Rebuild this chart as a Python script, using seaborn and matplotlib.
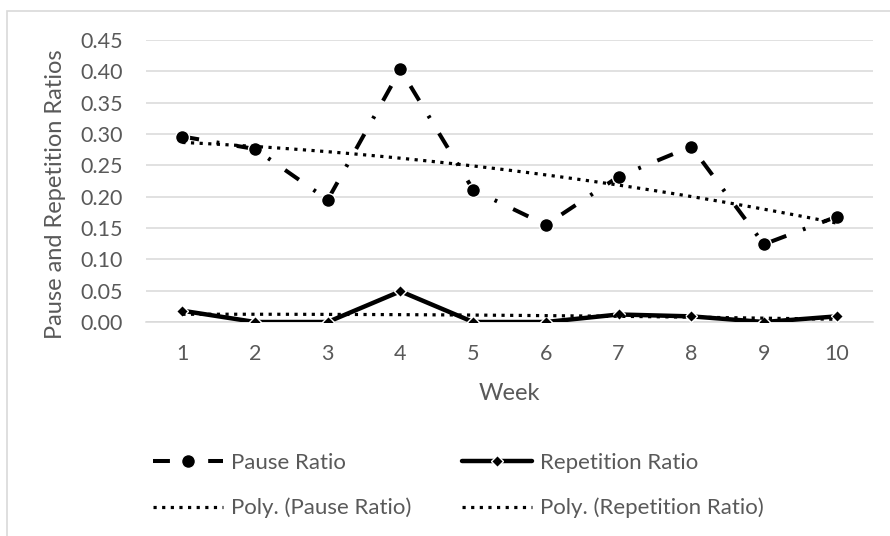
import matplotlib
matplotlib.use("Agg")
import matplotlib.pyplot as plt
from matplotlib.patches import Rectangle
from matplotlib.ticker import FormatStrFormatter
import seaborn as sns

# Weekly speech-fluency ratios
weeks = [1, 2, 3, 4, 5, 6, 7, 8, 9, 10]
pause_ratio = [0.296, 0.276, 0.195, 0.403, 0.211, 0.155, 0.232, 0.280, 0.124, 0.168]
repetition_ratio = [0.018, 0.0, 0.0, 0.049, 0.0, 0.0, 0.012, 0.009, 0.0, 0.009]
y_ticks = [0.00, 0.05, 0.10, 0.15, 0.20, 0.25, 0.30, 0.35, 0.40, 0.45]

sns.set_theme(style="white")
plt.rcParams["font.family"] = ["Lato", "DejaVu Sans"]

TEXT = "#595959"
GRID = "#d9d9d9"
FS = 15.5

fig = plt.figure(figsize=(8.9, 5.36), dpi=100)
ax = fig.add_axes([146 / 890, 1 - 322 / 536, 727 / 890, 282 / 536])

# outer chart border
fig.add_artist(Rectangle((7 / 890, -0.05), 1.2, 1 - 11 / 536 + 0.05,
                         transform=fig.transFigure, fill=False,
                         edgecolor=GRID, lw=1.2))

# data series
sns.lineplot(x=weeks, y=pause_ratio, ax=ax, color="black", lw=2.9,
             linestyle=(0, (4.2, 4.4, 0.7, 4.4)), marker="o", markersize=10,
             markeredgewidth=1, label="Pause Ratio", zorder=3)
sns.lineplot(x=weeks, y=repetition_ratio, ax=ax, color="black", lw=3.2,
             marker="D", markersize=6.2, markeredgewidth=1,
             label="Repetition Ratio", zorder=3)

# second-order polynomial trendlines
dot = (0, (1, 1.7))
sns.regplot(x=weeks, y=pause_ratio, ax=ax, order=2, scatter=False, ci=None,
            truncate=True, color="black", label="Poly. (Pause Ratio)",
            line_kws=dict(lw=2.3, linestyle=dot, zorder=4))
sns.regplot(x=weeks, y=repetition_ratio, ax=ax, order=2, scatter=False, ci=None,
            truncate=True, color="black", label="Poly. (Repetition Ratio)",
            line_kws=dict(lw=2.3, linestyle=dot, zorder=4))

ax.set_xlim(0.5, 10.5)
ax.set_ylim(0, 0.45)
ax.set_xticks(weeks)
ax.set_xticklabels([str(w) for w in weeks])
ax.set_yticks(y_ticks)
ax.yaxis.set_major_formatter(FormatStrFormatter("%.2f"))
ax.grid(axis="y", color=GRID, lw=1.1)
ax.grid(axis="x", visible=False)
for side in ["top", "left", "right"]:
    ax.spines[side].set_visible(False)
ax.spines["bottom"].set_color(GRID)
ax.spines["bottom"].set_linewidth(1.1)
ax.tick_params(axis="y", length=0, pad=16.5, labelsize=FS, labelcolor=TEXT)
ax.tick_params(axis="x", length=0, pad=16, labelsize=FS, labelcolor=TEXT)

ax.set_ylabel("Pause and Repetition Ratios", fontsize=17, color=TEXT, va="center")
ax.yaxis.set_label_coords((56 - 146) / 727, (322 - 194) / 282)
ax.set_xlabel("Week", fontsize=17, color=TEXT, va="center")
ax.xaxis.set_label_coords(0.5, (322 - 393) / 282)

handles, labels = ax.get_legend_handles_labels()
order = [labels.index(n) for n in ["Pause Ratio", "Poly. (Pause Ratio)",
                                   "Repetition Ratio", "Poly. (Repetition Ratio)"]]
if ax.get_legend():
    ax.get_legend().remove()
leg = fig.legend([handles[i] for i in order], [labels[i] for i in order],
                 loc="upper left", bbox_to_anchor=(153 / 890, 1 - 453 / 536),
                 ncol=2, frameon=False, borderpad=0, borderaxespad=0,
                 handlelength=3.15, handletextpad=0.36, columnspacing=2.3,
                 labelspacing=1.12, fontsize=16)
for t in leg.get_texts():
    t.set_color(TEXT)

fig.savefig("out.png", dpi=100)
